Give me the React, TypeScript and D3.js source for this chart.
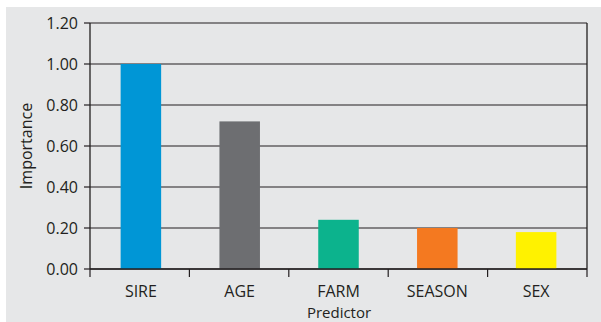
import React from "react";
import * as d3 from "d3";

// Relative importance of each predictor
const predictors = ["SIRE", "AGE", "FARM", "SEASON", "SEX"];
const importance = [1.0, 0.72, 0.24, 0.2, 0.18];
const barColors = ["#0096d6", "#6d6e71", "#0cb38d", "#f47920", "#fff200"];
const yTicks = [0, 0.2, 0.4, 0.6, 0.8, 1.0, 1.2];

const W = 601;
const H = 322;
const margin = { left: 90, right: 14, top: 23, bottom: 53 };
const ink = "#231f20";
const font = "'Open Sans', 'Noto Sans', sans-serif";
const fs = 16;

export default function App() {
  const x = d3
    .scaleBand<string>()
    .domain(predictors)
    .range([margin.left, W - margin.right])
    .paddingInner(0.59)
    .paddingOuter(0.31);
  const y = d3
    .scaleLinear()
    .domain([0, 1.2])
    .range([H - margin.bottom, margin.top]);

  const x0 = margin.left;
  const x1 = W - margin.right;
  const band = (x1 - x0) / predictors.length;
  const tickXs = d3.range(predictors.length + 1).map((i) => x0 + i * band);

  return (
    <svg
      width={W}
      height={H}
      style={{ position: "absolute", left: 0, top: 0, display: "block" }}
    >
      <rect x={6} y={7} width={W - 6} height={H - 7} fill="#e6e7e8" />

      {/* horizontal gridlines */}
      {yTicks.map((t) => (
        <line
          key={t}
          x1={x0}
          x2={x1}
          y1={y(t)}
          y2={y(t)}
          stroke={ink}
          strokeWidth={1.2}
        />
      ))}

      {/* bars */}
      {predictors.map((p, i) => (
        <rect
          key={p}
          x={x(p)}
          y={y(importance[i])}
          width={x.bandwidth()}
          height={y(0) - y(importance[i])}
          fill={barColors[i]}
        />
      ))}

      {/* frame */}
      <line x1={x0} x2={x0} y1={y(1.2)} y2={y(0)} stroke={ink} strokeWidth={1.3} />
      <line x1={x1} x2={x1} y1={y(1.2)} y2={y(0)} stroke={ink} strokeWidth={1.3} />
      <line x1={x0} x2={x1} y1={y(0)} y2={y(0)} stroke={ink} strokeWidth={1.3} />

      {/* y ticks */}
      {yTicks.map((t) => (
        <g key={"yt" + t}>
          <line x1={x0 - 6} x2={x0} y1={y(t)} y2={y(t)} stroke={ink} strokeWidth={1.2} />
          <text
            x={78}
            y={y(t)}
            dy="0.36em"
            textAnchor="end"
            fontFamily={font}
            fontSize={fs}
            fill={ink}
          >
            {t.toFixed(2)}
          </text>
        </g>
      ))}

      {/* x ticks */}
      {tickXs.map((tx, i) => (
        <line
          key={"xt" + i}
          x1={tx}
          x2={tx}
          y1={y(0)}
          y2={y(0) + 8}
          stroke={ink}
          strokeWidth={1.2}
        />
      ))}
      {predictors.map((p) => (
        <text
          key={"xl" + p}
          x={(x(p) as number) + x.bandwidth() / 2}
          y={296.5}
          textAnchor="middle"
          fontFamily={font}
          fontSize={fs}
          fill={ink}
        >
          {p}
        </text>
      ))}

      <text
        x={339}
        y={317.5}
        textAnchor="middle"
        fontFamily={font}
        fontSize={15}
        fill={ink}
      >
        Predictor
      </text>
      <text
        transform={`translate(32, 146) rotate(-90)`}
        textAnchor="middle"
        fontFamily={font}
        fontSize={fs}
        fill={ink}
      >
        Importance
      </text>
    </svg>
  );
}
